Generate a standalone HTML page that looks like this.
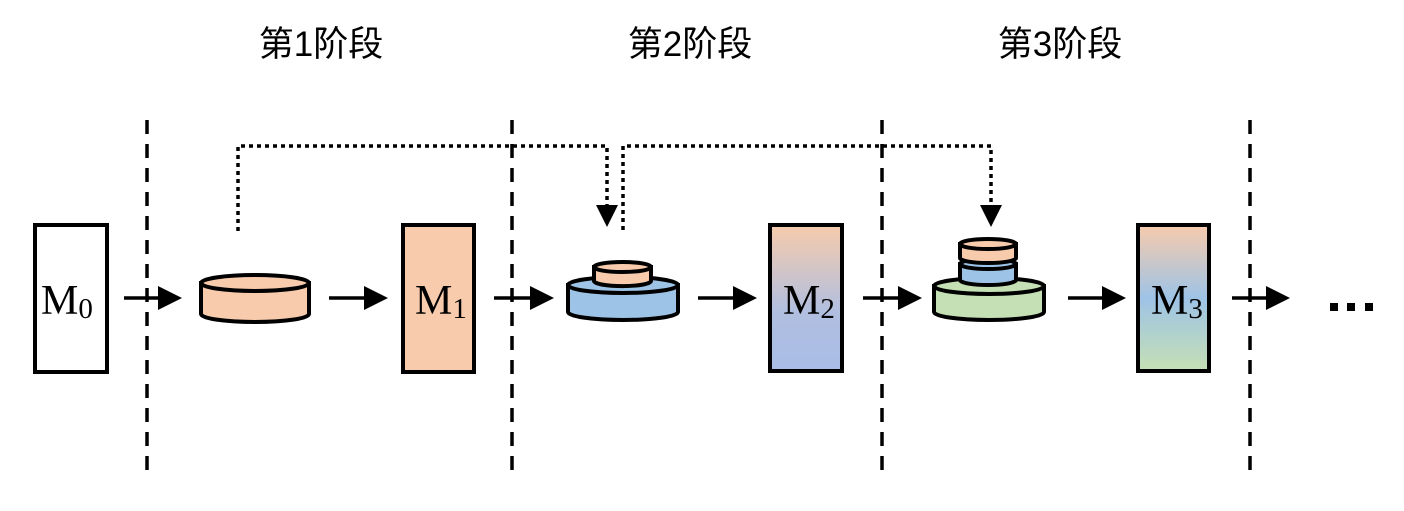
<!DOCTYPE html>
<html><head><meta charset="utf-8"><style>
html,body{margin:0;padding:0;background:#fff;}
svg{display:block;}
.t{font-family:"Liberation Sans","Noto Sans CJK SC",sans-serif;font-size:35px;fill:#000;}
.m{font-family:"Liberation Serif",serif;font-size:42px;fill:#000;}
</style></head><body>
<svg width="1404" height="511" viewBox="0 0 1404 511" xmlns="http://www.w3.org/2000/svg">
<defs>
<linearGradient id="g2" x1="0" y1="0" x2="0" y2="1"><stop offset="0" stop-color="#f7cbac"/><stop offset="0.6" stop-color="#b0bfe0"/><stop offset="1" stop-color="#a9bde6"/></linearGradient>
<linearGradient id="g3" x1="0" y1="0" x2="0" y2="1"><stop offset="0" stop-color="#f7cbac"/><stop offset="0.5" stop-color="#9ec3e6"/><stop offset="1" stop-color="#c5e0b4"/></linearGradient>
</defs>
<text class="t" x="321" y="56" text-anchor="middle">第1阶段</text>
<text class="t" x="690" y="56" text-anchor="middle">第2阶段</text>
<text class="t" x="1060" y="56" text-anchor="middle">第3阶段</text>
<g stroke="#000" stroke-width="3.5" stroke-dasharray="14,10">
<line x1="147" y1="120" x2="147" y2="472"/>
<line x1="512" y1="120" x2="512" y2="472"/>
<line x1="882" y1="120" x2="882" y2="472"/>
<line x1="1250" y1="120" x2="1250" y2="472"/>
</g>
<g fill="none" stroke="#000" stroke-width="3.5" stroke-dasharray="4,4">
<polyline points="238,231 238,146 607,146 607,206"/>
<polyline points="623,230 623,146 991,146 991,206"/>
</g>
<path d="M596,205 L618,205 L607,227 z"/>
<path d="M980,205 L1002,205 L991,227 z"/>
<g stroke="#000" stroke-width="3.5">
<line x1="124" y1="298" x2="160" y2="298"/><path d="M158,286 L182,298 L158,310 z" stroke="none"/>
<line x1="329" y1="298" x2="365" y2="298"/><path d="M364,286 L388,298 L364,310 z" stroke="none"/>
<line x1="494" y1="298" x2="532" y2="298"/><path d="M530,286 L554,298 L530,310 z" stroke="none"/>
<line x1="698" y1="298" x2="735" y2="298"/><path d="M733,286 L757,298 L733,310 z" stroke="none"/>
<line x1="863" y1="298" x2="900" y2="298"/><path d="M898,286 L922,298 L898,310 z" stroke="none"/>
<line x1="1068" y1="298" x2="1104" y2="298"/><path d="M1102,286 L1126,298 L1102,310 z" stroke="none"/>
<line x1="1232" y1="298" x2="1268" y2="298"/><path d="M1266,286 L1290,298 L1266,310 z" stroke="none"/>
</g>
<g stroke="#000" stroke-width="4">
<rect x="35" y="225" width="72" height="147" fill="#fff"/>
<rect x="403" y="225" width="71" height="147" fill="#f8cbad"/>
<rect x="770" y="225" width="72" height="146" fill="url(#g2)"/>
<rect x="1138" y="225" width="71" height="146" fill="url(#g3)"/>
</g>
<text class="m" x="41" y="314">M<tspan font-size="29" dy="4">0</tspan></text>
<text class="m" x="415" y="314">M<tspan font-size="29" dy="4">1</tspan></text>
<text class="m" x="783" y="314">M<tspan font-size="29" dy="4">2</tspan></text>
<text class="m" x="1151" y="314">M<tspan font-size="29" dy="4">3</tspan></text>
<g stroke="#000" stroke-width="4">
<path d="M201,283 L201,314 A54,8 0 0 0 309,314 L309,283 z" fill="#f8cbad"/>
<ellipse cx="255" cy="283" rx="54" ry="8" fill="#f8cbad"/>
<path d="M568,285 L568,312 A55,8 0 0 0 678,312 L678,285 z" fill="#9dc3e6"/>
<ellipse cx="623" cy="285" rx="55" ry="8" fill="#9dc3e6"/>
<path d="M594,267 L594,281 A28,5 0 0 0 651,281 L651,267 z" fill="#f8cbad"/>
<ellipse cx="622.5" cy="267" rx="28.5" ry="5" fill="#f8cbad"/>
<path d="M934,286 L934,312 A55,8 0 0 0 1044,312 L1044,286 z" fill="#c5e0b4"/>
<ellipse cx="989" cy="286" rx="55" ry="8" fill="#c5e0b4"/>
<path d="M960,264 L960,280 A28,5 0 0 0 1016,280 L1016,264 z" fill="#9dc3e6"/>
<ellipse cx="988" cy="264" rx="28" ry="5" fill="#9dc3e6"/>
<path d="M960,244 L960,258 A28,5 0 0 0 1016,258 L1016,244 z" fill="#f8cbad"/>
<ellipse cx="988" cy="244" rx="28" ry="5" fill="#f8cbad"/>
</g>
<rect x="1330" y="303" width="8" height="8"/>
<rect x="1347" y="303" width="8" height="8"/>
<rect x="1365" y="303" width="8" height="8"/>
</svg>
</body></html>
